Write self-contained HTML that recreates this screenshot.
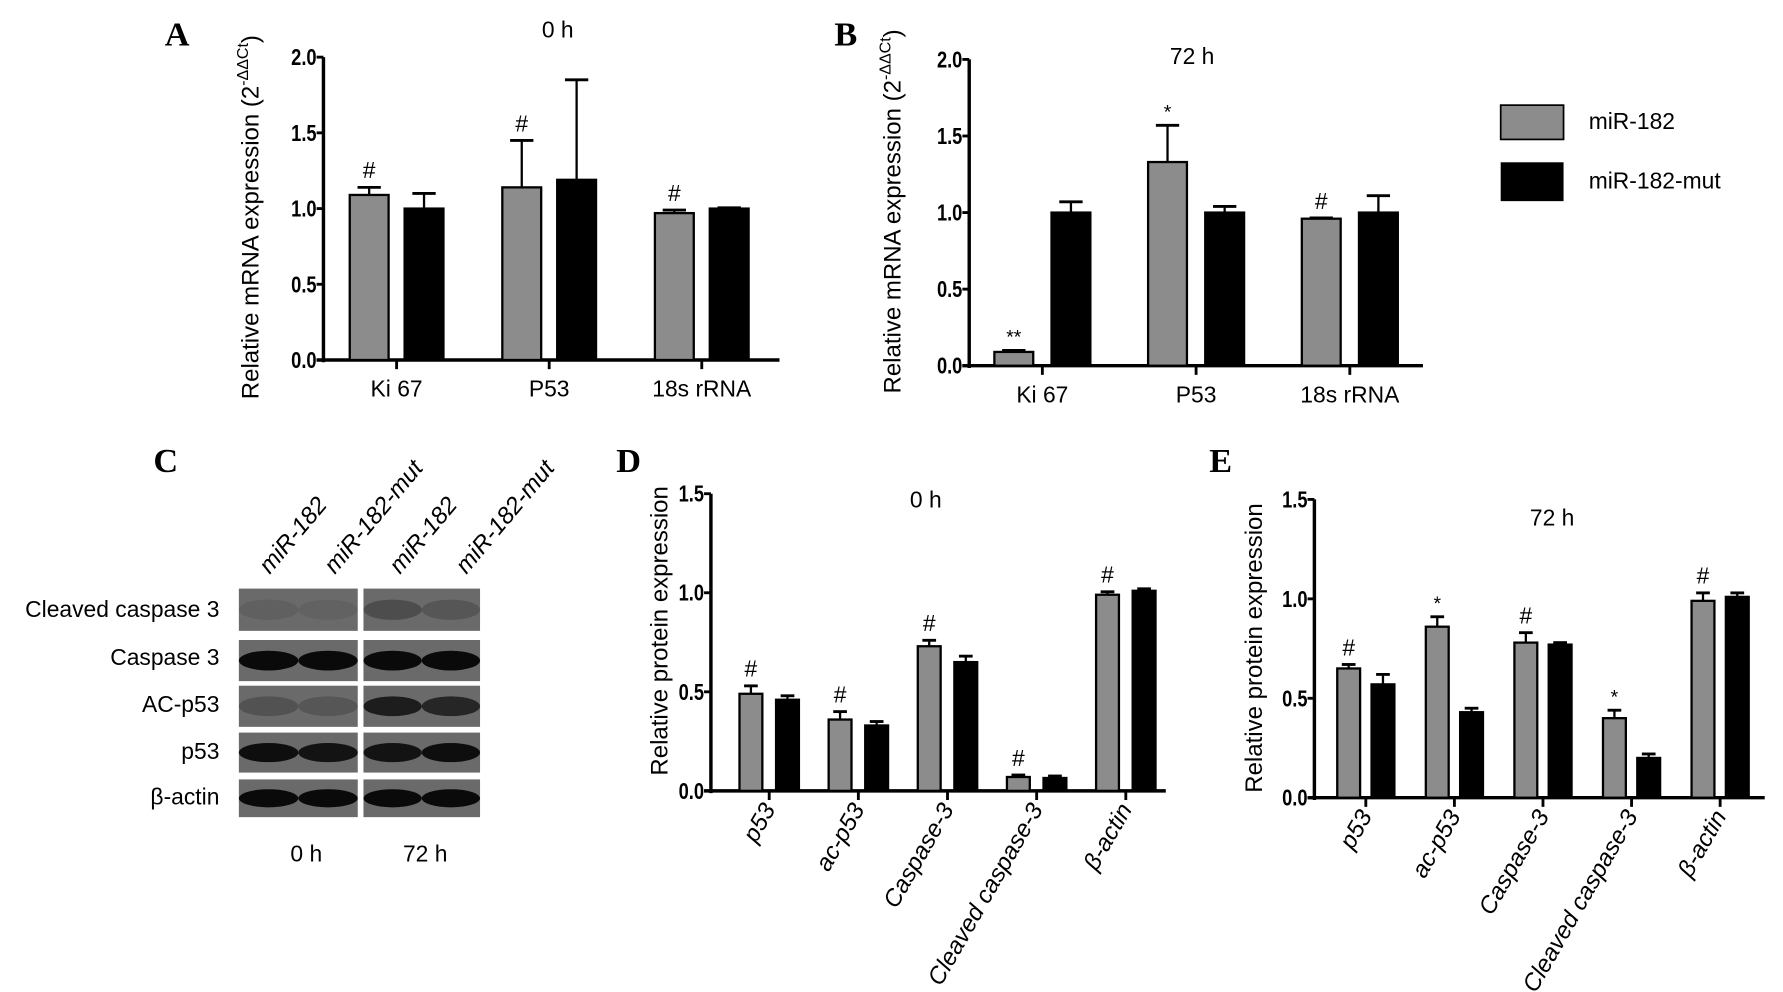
<!DOCTYPE html>
<html><head><meta charset="utf-8"><style>
html,body{margin:0;padding:0;background:#fff;}
svg{display:block;}
text{font-family:"Liberation Sans",sans-serif;}
text.serif{font-family:"Liberation Serif",serif;}
</style></head><body>
<svg id="fig" width="1783" height="992" viewBox="0 0 1560 868" preserveAspectRatio="none" xmlns="http://www.w3.org/2000/svg">
<g id="static">
<text class="serif" x="155" y="40" font-weight="bold" font-size="30" text-anchor="middle">A</text>
<text class="serif" x="740" y="40" font-weight="bold" font-size="30" text-anchor="middle">B</text>
<text class="serif" x="145" y="413" font-weight="bold" font-size="30" text-anchor="middle">C</text>
<text class="serif" x="550" y="413" font-weight="bold" font-size="30" text-anchor="middle">D</text>
<text class="serif" x="1068" y="413" font-weight="bold" font-size="30" text-anchor="middle">E</text>
<g>
<rect x="1313" y="92" width="55" height="30" fill="#8c8c8c" stroke="#000" stroke-width="1.5"/>
<text x="1390" y="113" font-size="20">miR-182</text>
<rect x="1313" y="142" width="55" height="34" fill="#000"/>
<text x="1390" y="165" font-size="20">miR-182-mut</text>
</g>
<g>
<g font-size="20" text-anchor="end">
<text x="192" y="540">Cleaved caspase 3</text>
<text x="192" y="582">Caspase 3</text>
<text x="192" y="623">AC-p53</text>
<text x="192" y="664">p53</text>
<text x="192" y="704">β-actin</text>
</g>
<g font-size="21" font-style="italic">
<text transform="translate(236,503) rotate(-50)">miR-182</text>
<text transform="translate(293,503) rotate(-50)">miR-182-mut</text>
<text transform="translate(350,503) rotate(-50)">miR-182</text>
<text transform="translate(408,503) rotate(-50)">miR-182-mut</text>
</g>
<text x="268" y="754" font-size="20" text-anchor="middle">0 h</text>
<text x="372" y="754" font-size="20" text-anchor="middle">72 h</text>
<g id="blot"></g>
</g>
</g>
<g id="charts"></g>
</svg>
<script>
const NS="http://www.w3.org/2000/svg";
// ---- Panel A data ----
const catsA=["Ki 67","P53","18s rRNA"];
const grayA=[1.09,1.14,0.97];
const grayErrA=[0.05,0.31,0.02];
const blackA=[1.0,1.19,1.0];
const blackErrA=[0.10,0.66,0.005];
const markA=["#","#","#"];
const ticksA=["0.0","0.5","1.0","1.5","2.0"];
// ---- Panel B data ----
const catsB=["Ki 67","P53","18s rRNA"];
const grayB=[0.09,1.33,0.96];
const grayErrB=[0.01,0.24,0.005];
const blackB=[1.0,1.0,1.0];
const blackErrB=[0.07,0.04,0.11];
const markB=["**","*","#"];
const ticksB=["0.0","0.5","1.0","1.5","2.0"];
// ---- Panel D data ----
const catsD=["p53","ac-p53","Caspase-3","Cleaved caspase-3","β-actin"];
const grayD=[0.49,0.36,0.73,0.07,0.99];
const grayErrD=[0.04,0.04,0.03,0.01,0.015];
const blackD=[0.46,0.33,0.65,0.065,1.01];
const blackErrD=[0.02,0.02,0.03,0.01,0.01];
const markD=["#","#","#","#","#"];
const ticksD=["0.0","0.5","1.0","1.5"];
// ---- Panel E data ----
const catsE=["p53","ac-p53","Caspase-3","Cleaved caspase-3","β-actin"];
const grayE=[0.65,0.86,0.78,0.40,0.99];
const grayErrE=[0.02,0.05,0.05,0.04,0.04];
const blackE=[0.57,0.43,0.77,0.20,1.01];
const blackErrE=[0.05,0.02,0.01,0.02,0.02];
const markE=["#","*","#","*","#"];
const ticksE=["0.0","0.5","1.0","1.5"];

function mk(tag,attrs,parent){const e=document.createElementNS(NS,tag);for(const k in attrs)e.setAttribute(k,attrs[k]);parent.appendChild(e);return e;}
const root=document.getElementById('charts');

function chart(o){
  const g=mk('g',{},root);
  
  
  const y=v=>o.y0-(v/o.ymax)*(o.y0-o.ytop);
  const n=o.cats.length;
  const xc=i=>o.firstTick+i*o.tickStep;
  const ya=mk('line',{x1:o.x0,y1:o.y0+2,x2:o.x0,y2:o.ytop,stroke:'#000','stroke-width':3},g);
  
  
  const xa=mk('line',{x1:o.x0-6,y1:o.y0,x2:o.x1,y2:o.y0,stroke:'#000','stroke-width':3},g);
  
  
  o.ticks.forEach(t=>{
    const v=parseFloat(t);
    mk('line',{x1:o.x0-6,y1:y(v),x2:o.x0,y2:y(v),stroke:'#000','stroke-width':2.5},g);
    const tx=mk('text',{x:o.x0-6,y:y(v)+7,'font-size':20,'font-weight':'bold','text-anchor':'end',transform:`translate(${o.x0-6},0) scale(0.8,1) translate(${-(o.x0-6)},0)`},g);
    tx.textContent=t;
    
    
  });
  const bw=o.bw;
  for(let i=0;i<n;i++){
    const c=xc(i);
    mk('line',{x1:c,y1:o.y0,x2:c,y2:o.y0+8,stroke:'#000','stroke-width':2.5},g);
    const series=[[o.gray[i],o.grayErr[i],'#8c8c8c',c-o.off,'bar-mir182'],[o.black[i],o.blackErr[i],'#000',c+o.off,'bar-mir182-mut']];
    series.forEach(s=>{
      const [v,e,col,cx,nm]=s;
      const top=v+e;
      mk('line',{x1:cx,y1:y(v),x2:cx,y2:y(top),stroke:'#000','stroke-width':2},g);
      mk('line',{x1:cx-bw*0.3,y1:y(top),x2:cx+bw*0.3,y2:y(top),stroke:'#000','stroke-width':2.5},g);
      const r=mk('rect',{x:cx-bw/2,y:y(v),width:bw,height:o.y0-y(v),fill:col,stroke:'#000','stroke-width':2},g);
      
      
    });
    const mt=mk('text',{x:c-o.off,y:y(o.gray[i]+o.grayErr[i])-(o.mark[i]==='#'?8:6),'font-size':o.mark[i]==='#'?20:17,'text-anchor':'middle'},g);
    mt.textContent=o.mark[i];
    
    
    let lab;
    if(o.rot){
      lab=mk('text',{transform:`translate(${c+6},${o.y0+16}) rotate(-60)`,'font-size':21,'font-style':'italic','text-anchor':'end'},g);
    }else{
      lab=mk('text',{x:c,y:o.y0+32,'font-size':20,'text-anchor':'middle'},g);
    }
    lab.textContent=o.cats[i];
    
    
  }
  const tt=mk('text',{x:o.titleX,y:o.titleY,'font-size':20,'text-anchor':'middle'},g);
  tt.textContent=o.title;
  
  
  const yl=mk('text',{transform:`translate(${o.ylX},${o.ylY}) rotate(-90)`,'font-size':o.ylSize,'text-anchor':'middle'},g);
  yl.textContent=o.ylabel;
  if(o.sup){const ts=mk('tspan',{'font-size':14,dy:-9},yl);ts.textContent=o.sup;const t2=mk('tspan',{dy:9},yl);t2.textContent=')';}
  
  
}
chart({name:'chart-a-mrna-0h',cats:catsA,gray:grayA,grayErr:grayErrA,black:blackA,blackErr:blackErrA,mark:markA,ticks:ticksA,
  x0:283,x1:682,y0:315,ytop:50,ymax:2.0,firstTick:347,tickStep:133.5,off:24,bw:34,rot:false,ylSize:21,
  title:'0 h',titleX:488,titleY:33,ylabel:'Relative mRNA expression (2',sup:'-ΔΔCt',ylX:226,ylY:190});
chart({name:'chart-b-mrna-72h',cats:catsB,gray:grayB,grayErr:grayErrB,black:blackB,blackErr:blackErrB,mark:markB,ticks:ticksB,
  x0:848,x1:1245,y0:320,ytop:52,ymax:2.0,firstTick:912,tickStep:134.5,off:25,bw:34,rot:false,ylSize:21,
  title:'72 h',titleX:1043,titleY:56,ylabel:'Relative mRNA expression (2',sup:'-ΔΔCt',ylX:788,ylY:185});
chart({name:'chart-d-protein-0h',cats:catsD,gray:grayD,grayErr:grayErrD,black:blackD,blackErr:blackErrD,mark:markD,ticks:ticksD,
  x0:622,x1:1020,y0:692,ytop:432,ymax:1.5,firstTick:673,tickStep:78,off:16,bw:20,rot:true,ylSize:21,
  title:'0 h',titleX:810,titleY:444,ylabel:'Relative protein expression',ylX:584,ylY:552});
chart({name:'chart-e-protein-72h',cats:catsE,gray:grayE,grayErr:grayErrE,black:blackE,blackErr:blackErrE,mark:markE,ticks:ticksE,
  x0:1150,x1:1544,y0:698,ytop:437,ymax:1.5,firstTick:1195,tickStep:77.5,off:15,bw:20,rot:true,ylSize:21,
  title:'72 h',titleX:1358,titleY:460,ylabel:'Relative protein expression',ylX:1104,ylY:567});

// western blot
const blot=document.getElementById('blot');
const rows=[[515,552],[560,596],[600,636],[641,676],[682,715]];
const panels=[[209,313],[318,420]];
const bandInt=[[0.1,0.08,0.3,0.2],[1,1,1,1],[0.25,0.2,0.8,0.7],[0.95,0.9,0.9,0.95],[1,1,1,1]];
rows.forEach((r,ri)=>{
  panels.forEach((p,pi)=>{
    const bg=mk('rect',{x:p[0],y:r[0],width:p[1]-p[0],height:r[1]-r[0],fill:'#6a6a6a'},blot);
    
    
    for(let k=0;k<2;k++){
      const w=(p[1]-p[0])/2;
      const a=bandInt[ri][pi*2+k];
      mk('ellipse',{cx:p[0]+w*k+w/2,cy:(r[0]+r[1])/2,rx:w*0.5,ry:(r[1]-r[0])*0.24,fill:'#0a0a0a','fill-opacity':a},blot);
    }
  });
});
</script>
</body></html>
